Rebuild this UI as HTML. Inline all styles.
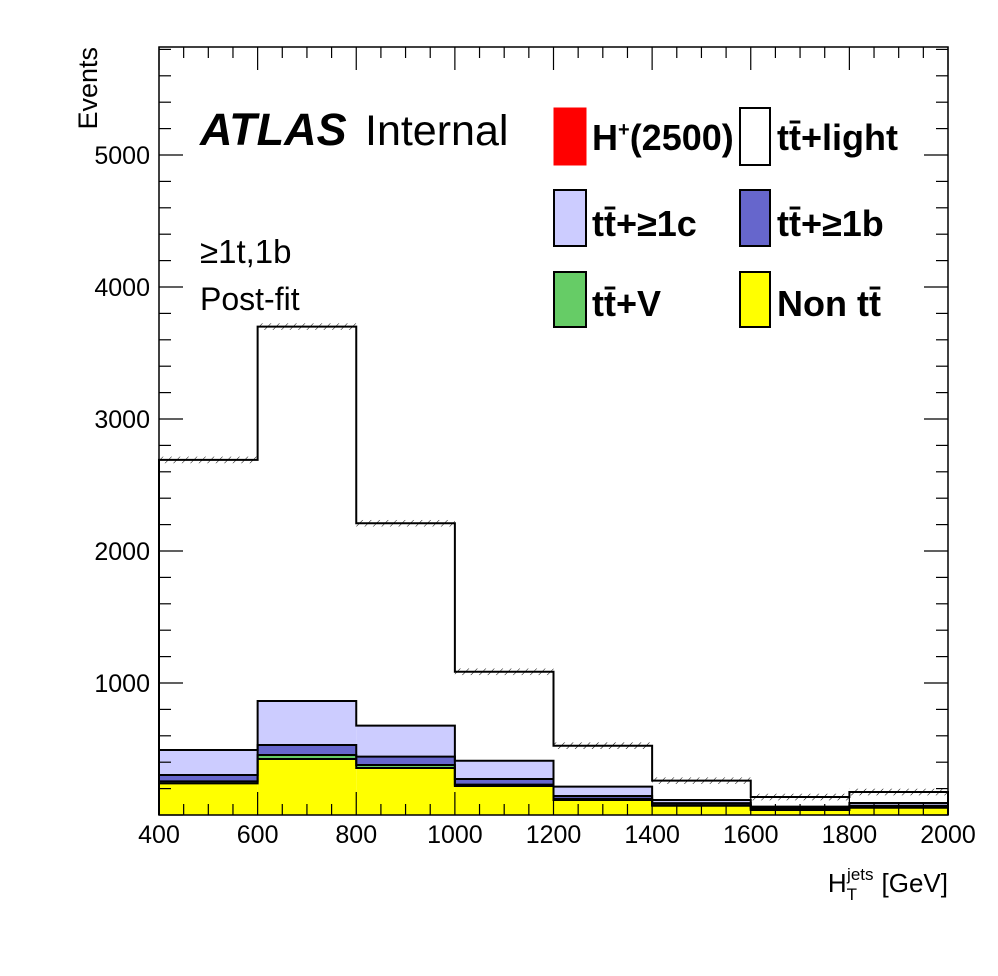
<!DOCTYPE html>
<html><head><meta charset="utf-8"><style>
body{margin:0;background:#fff;}
svg{font-family:"Liberation Sans",sans-serif;}
</style></head><body>
<svg id="c" width="998" height="971" viewBox="0 0 998 971">
<defs><pattern id="hatch" width="6" height="6" patternUnits="userSpaceOnUse" patternTransform="rotate(45)"><line x1="0" y1="0" x2="0" y2="6" stroke="#000" stroke-width="1"/></pattern></defs>
<g id="bars"></g>
<g id="axes"></g>
<text x="200" y="145" font-size="45" font-weight="bold" font-style="italic">ATLAS</text>
<text x="365" y="145" font-size="43">Internal</text>
<text x="200" y="263" font-size="33">≥1t,1b</text>
<text x="200" y="310" font-size="32">Post-fit</text>
<g font-size="36" font-weight="bold">
<rect x="554" y="108" width="32" height="57" fill="#ff0000" stroke="#f00"/>
<text x="592" y="150">H<tspan font-size="20" dy="-14">+</tspan><tspan dy="14">(2500)</tspan></text>
<rect x="740" y="108" width="30" height="57" fill="#fff" stroke="#000" stroke-width="2"/>
<text x="777" y="150">tt̄+light</text>
<rect x="554" y="190" width="32" height="56" fill="#ccccff" stroke="#000" stroke-width="2"/>
<text x="592" y="236">tt̄+≥1c</text>
<rect x="740" y="190" width="30" height="56" fill="#6666cc" stroke="#000" stroke-width="2"/>
<text x="777" y="236">tt̄+≥1b</text>
<rect x="554" y="272" width="32" height="55" fill="#66cc66" stroke="#000" stroke-width="2"/>
<text x="592" y="316">tt̄+V</text>
<rect x="740" y="272" width="30" height="55" fill="#ffff00" stroke="#000" stroke-width="2"/>
<text x="777" y="316">Non tt̄</text>
</g>
<text transform="translate(97,47) rotate(-90)" text-anchor="end" font-size="27">Events</text>
<text x="948" y="892" text-anchor="end" font-size="26">H<tspan font-size="17" dy="8">T</tspan><tspan font-size="17" dx="-10" dy="-20">jets</tspan><tspan dx="8" dy="12">[GeV]</tspan></text>
</svg>
<script>
const binEdges=[400,600,800,1000,1200,1400,1600,1800,2000];
const nonTT=[240,424,356,220,114,70,38,55];
const ttV=[15,31,23,10,8,5,4,5];
const tt1b=[48,75,63,43,22,15,11,10];
const tt1c=[189,334,235,138,71,24,10,21];
const ttLight=[2198,2836,1533,674,310,146,73,83];
const xTicks=[400,600,800,1000,1200,1400,1600,1800,2000];
const yTicks=[1000,2000,3000,4000,5000];
const X0=159,X1=948,Y0=815,Y1=47;
const xs=v=>X0+(v-400)/1600*(X1-X0);
const ys=v=>Y0-v*0.132;
const NS='http://www.w3.org/2000/svg';
function mk(t,a,p){const e=document.createElementNS(NS,t);for(const k in a)e.setAttribute(k,a[k]);p.appendChild(e);return e;}
const bars=document.getElementById('bars'),axes=document.getElementById('axes');
const series=[[nonTT,'#ffff00','nontt'],[ttV,'#66cc66','ttv'],[tt1b,'#6666cc','tt1b'],[tt1c,'#ccccff','tt1c'],[ttLight,'#ffffff','ttlight']];
const cum=binEdges.slice(0,-1).map(()=>0);
const tops=[];
series.forEach(([vals,col,nm])=>{
  const bottom=cum.slice();
  vals.forEach((v,i)=>cum[i]+=v);
  for(let i=0;i<vals.length;i++){
    const x0=xs(binEdges[i]),x1=xs(binEdges[i+1]);
    const r=mk('rect',{x:x0,y:ys(cum[i]),width:x1-x0,height:ys(bottom[i])-ys(cum[i]),fill:col},bars);
    
    
  }
  tops.push(cum.slice());
});
tops.forEach((t,k)=>{
  let d='M'+xs(binEdges[0])+','+ys(0);
  for(let i=0;i<t.length;i++){d+=' L'+xs(binEdges[i])+','+ys(t[i])+' L'+xs(binEdges[i+1])+','+ys(t[i]);}
  d+=' L'+xs(binEdges[t.length])+','+ys(0);
  const p=mk('path',{d:d,fill:'none',stroke:'#000','stroke-width':2},bars);
  
  
});
const tot=tops[tops.length-1];
for(let i=0;i<tot.length;i++){
  const h=mk('rect',{x:xs(binEdges[i]),y:ys(tot[i]+25),width:xs(binEdges[i+1])-xs(binEdges[i]),height:ys(tot[i]-25)-ys(tot[i]+25),fill:'url(#hatch)'},bars);
  
  
}
const fr=mk('rect',{x:X0,y:Y1,width:X1-X0,height:Y0-Y1,fill:'none',stroke:'#000','stroke-width':1.5},axes);


for(let v=400;v<=2000;v+=50){
  const L=(v%200===0)?23:11,x=xs(v);
  mk('line',{x1:x,y1:Y0,x2:x,y2:Y0-L,stroke:'#000','stroke-width':1.2},axes);
  mk('line',{x1:x,y1:Y1,x2:x,y2:Y1+L,stroke:'#000','stroke-width':1.2},axes);
}
for(let v=0;v<=5800;v+=200){
  const L=(v%1000===0)?24:12,y=ys(v);
  mk('line',{x1:X0,y1:y,x2:X0+L,y2:y,stroke:'#000','stroke-width':1.2},axes);
  mk('line',{x1:X1,y1:y,x2:X1-L,y2:y,stroke:'#000','stroke-width':1.2},axes);
}
xTicks.forEach(v=>{const t=mk('text',{x:xs(v),y:843,'text-anchor':'middle','font-size':25},axes);t.textContent=v;

});
yTicks.forEach(v=>{const t=mk('text',{x:150,y:ys(v)+9,'text-anchor':'end','font-size':25},axes);t.textContent=v;

});
</script>
</body></html>
